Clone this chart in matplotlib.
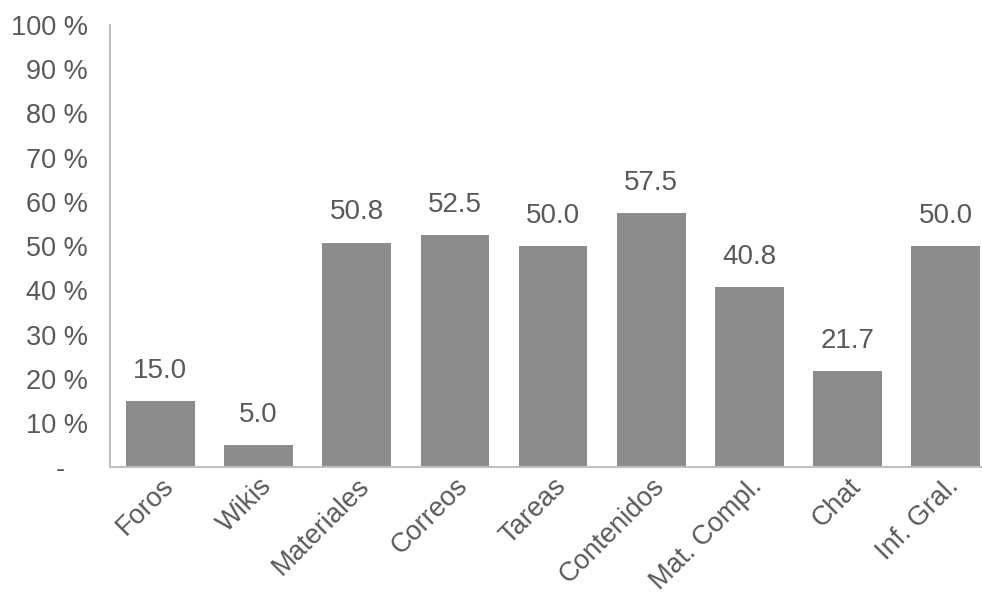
import matplotlib.pyplot as plt

categorias = ['Foros', 'Wikis', 'Materiales', 'Correos', 'Tareas',
              'Contenidos', 'Mat. Compl.', 'Chat', 'Inf. Gral.']
valores = [15.0, 5.0, 50.8, 52.5, 50.0, 57.5, 40.8, 21.7, 50.0]
yticks = [0, 10, 20, 30, 40, 50, 60, 70, 80, 90, 100]
ytick_labels = ['-   '] + ['%d %%' % v for v in yticks[1:]]

plt.rcParams['font.family'] = ['Liberation Sans', 'DejaVu Sans']
gris_texto = '#595959'

fig = plt.figure(figsize=(9.82, 6.04), dpi=100)
ax = fig.add_axes([0.112, 0.226, 0.888, 0.733])

x = range(len(categorias))
bars = ax.bar(x, valores, width=0.70, color='#8c8c8c')
for b, v in zip(bars, valores):
    ax.annotate('%.1f' % v, (b.get_x() + b.get_width() / 2, v),
                xytext=(0, 12.5), textcoords='offset points',
                ha='center', va='bottom', fontsize=20, color=gris_texto)

ax.set_xlim(-0.514, 8.37)
ax.set_ylim(0, 100)
ax.set_yticks(yticks)
ax.set_yticklabels(ytick_labels)
ax.set_xticks(list(x))
ax.set_xticklabels(categorias, rotation=45, ha='right', rotation_mode='anchor')
ax.tick_params(axis='both', length=0, labelsize=19.5, labelcolor=gris_texto)
ax.tick_params(axis='y', pad=16)
ax.tick_params(axis='x', pad=4)

for s in ['top', 'right']:
    ax.spines[s].set_visible(False)
for s in ['left', 'bottom']:
    ax.spines[s].set_color('#bfbfbf')
    ax.spines[s].set_linewidth(1.5)

fig.savefig('out.png', dpi=100)
